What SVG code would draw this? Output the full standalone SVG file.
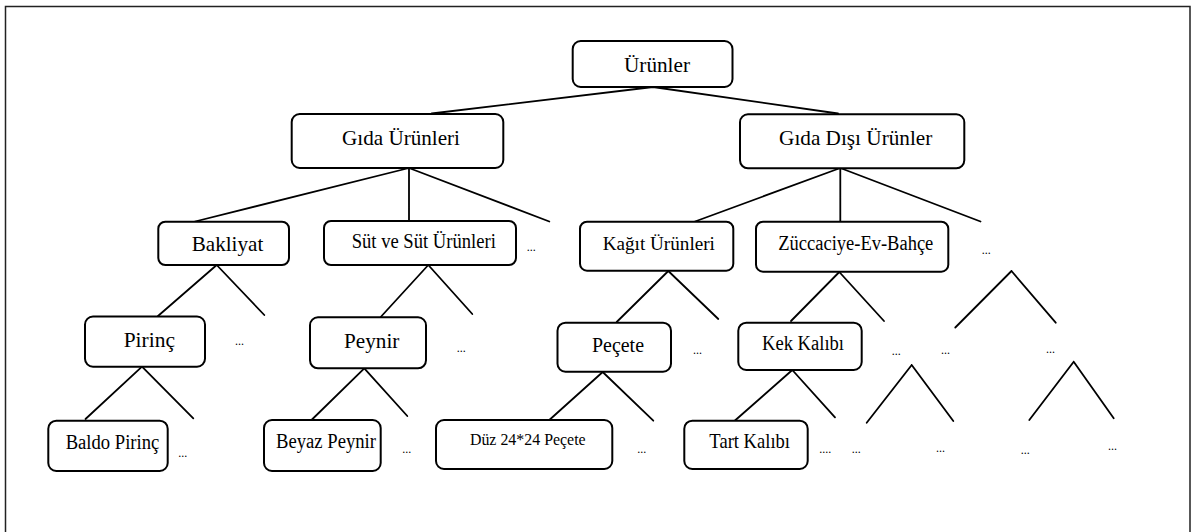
<svg xmlns="http://www.w3.org/2000/svg" width="1194" height="532" viewBox="0 0 1194 532">
  <style>
    .box { fill: #fff; stroke: #000; stroke-width: 2; }
    .edge { stroke: #000; stroke-width: 1.8; fill: none; stroke-linecap: round; }
    .lbl { font-family: "Liberation Serif", "Times New Roman", serif; fill: #000; text-anchor: middle; }
    .dots { font-family: "Liberation Serif", "Times New Roman", serif; font-size: 12px; fill: #000; }
  </style>
  <rect width="1194" height="532" fill="#fff"/>
  <!-- outer frame (runs off the bottom edge) -->
  <path d="M5.5,540 V6.5 H1190 V540" fill="none" stroke="#222" stroke-width="1.5"/>

  <g id="connectors" class="edge">
    <path d="M653,87 L431.7,113.5 M653,87 L838,113.5"/>
    <path d="M409,168 L195,221.5 M409,168 L409,221.5 M409,168 L549.3,221.5"/>
    <path d="M840.3,168 L695,221.5 M840.3,168 L840.3,221.5 M840.3,168 L980.5,221.5"/>
    <path d="M216.7,265 L158,316 M216.7,265 L264.3,315"/>
    <path d="M428.3,265 L380.7,317 M428.3,265 L472.3,314"/>
    <path d="M668.3,271 L616.7,322 M668.3,271 L718.3,319"/>
    <path d="M839.3,272 L791,321 M839.3,272 L884,321"/>
    <path d="M1011.5,271 L955.3,327.5 M1011.5,271 L1055.7,322.7"/>
    <path d="M142,366.7 L85.5,419 M142,366.7 L193.3,418.3"/>
    <path d="M364.3,368.3 L311,420.5 M364.3,368.3 L407.3,416"/>
    <path d="M602.7,372 L549.3,420 M602.7,372 L653.3,420.7"/>
    <path d="M792.3,370 L735,420.5 M792.3,370 L835,417.3"/>
    <path d="M911.7,365 L866.7,422.7 M911.7,365 L953.3,421"/>
    <path d="M1073.7,361.7 L1029.3,420 M1073.7,361.7 L1113.7,418.3"/>
  </g>

  <g id="urunler">
    <rect class="box" x="572.7" y="41" width="159.8" height="46" rx="8"/>
    <text class="lbl" font-family="Liberation Serif, serif" x="657" y="71.5" font-size="22" textLength="66" lengthAdjust="spacingAndGlyphs">Ürünler</text>
  </g>
  <g id="gida-urunleri">
    <rect class="box" x="291.7" y="114" width="211.6" height="54" rx="8"/>
    <text class="lbl" font-family="Liberation Serif, serif" x="401" y="145" font-size="22" textLength="118" lengthAdjust="spacingAndGlyphs">Gıda Ürünleri</text>
  </g>
  <g id="gida-disi-urunler">
    <rect class="box" x="740" y="114.3" width="224.3" height="54" rx="8"/>
    <text class="lbl" font-family="Liberation Serif, serif" x="855.7" y="145" font-size="22" textLength="153.3" lengthAdjust="spacingAndGlyphs">Gıda Dışı Ürünler</text>
  </g>
  <g id="bakliyat">
    <rect class="box" x="158.3" y="221.7" width="130.7" height="43.3" rx="7"/>
    <text class="lbl" font-family="Liberation Serif, serif" x="227.5" y="250.5" font-size="22" textLength="71.6" lengthAdjust="spacingAndGlyphs">Bakliyat</text>
  </g>
  <g id="sut-urunleri">
    <rect class="box" x="324" y="221" width="192" height="44" rx="7"/>
    <text class="lbl" font-family="Liberation Serif, serif" x="423.8" y="248.3" font-size="20" textLength="144.3" lengthAdjust="spacingAndGlyphs">Süt ve Süt Ürünleri</text>
  </g>
  <g id="kagit-urunleri">
    <rect class="box" x="580" y="221.7" width="153.3" height="49" rx="7"/>
    <text class="lbl" font-family="Liberation Serif, serif" x="658.8" y="250" font-size="19.8" textLength="112.3" lengthAdjust="spacingAndGlyphs">Kağıt Ürünleri</text>
  </g>
  <g id="zuccaciye">
    <rect class="box" x="756" y="221.7" width="192.3" height="50" rx="7"/>
    <text class="lbl" font-family="Liberation Serif, serif" x="855.8" y="250" font-size="20" textLength="155" lengthAdjust="spacingAndGlyphs">Züccaciye-Ev-Bahçe</text>
  </g>
  <g id="pirinc">
    <rect class="box" x="85" y="316.5" width="120" height="50.2" rx="8"/>
    <text class="lbl" font-family="Liberation Serif, serif" x="149.3" y="347.3" font-size="22" textLength="51.3" lengthAdjust="spacingAndGlyphs">Pirinç</text>
  </g>
  <g id="peynir">
    <rect class="box" x="310" y="317.3" width="116" height="51" rx="8"/>
    <text class="lbl" font-family="Liberation Serif, serif" x="371.7" y="348.3" font-size="22" textLength="55.3" lengthAdjust="spacingAndGlyphs">Peynir</text>
  </g>
  <g id="pecete">
    <rect class="box" x="557.5" y="322.7" width="113.5" height="49" rx="8"/>
    <text class="lbl" font-family="Liberation Serif, serif" x="618" y="351.7" font-size="21" textLength="52" lengthAdjust="spacingAndGlyphs">Peçete</text>
  </g>
  <g id="kek-kalibi">
    <rect class="box" x="738.3" y="322.7" width="123.4" height="47.3" rx="8"/>
    <text class="lbl" font-family="Liberation Serif, serif" x="803" y="350" font-size="20.5" textLength="82" lengthAdjust="spacingAndGlyphs">Kek Kalıbı</text>
  </g>
  <g id="baldo-pirinc">
    <rect class="box" x="48.3" y="420.7" width="119.4" height="50.3" rx="8"/>
    <text class="lbl" font-family="Liberation Serif, serif" x="112.5" y="449.3" font-size="20.5" textLength="93.6" lengthAdjust="spacingAndGlyphs">Baldo Pirinç</text>
  </g>
  <g id="beyaz-peynir">
    <rect class="box" x="264" y="420" width="116.7" height="51" rx="8"/>
    <text class="lbl" font-family="Liberation Serif, serif" x="326" y="448.3" font-size="20.5" textLength="100" lengthAdjust="spacingAndGlyphs">Beyaz Peynir</text>
  </g>
  <g id="duz-pecete">
    <rect class="box" x="436" y="420" width="176.3" height="49" rx="8"/>
    <text class="lbl" font-family="Liberation Serif, serif" x="527.8" y="445" font-size="17.5" textLength="115.7" lengthAdjust="spacingAndGlyphs">Düz 24*24 Peçete</text>
  </g>
  <g id="tart-kalibi">
    <rect class="box" x="684.3" y="420.7" width="123.4" height="48.3" rx="8"/>
    <text class="lbl" font-family="Liberation Serif, serif" x="749.7" y="448.3" font-size="20.3" textLength="80.7" lengthAdjust="spacingAndGlyphs">Tart Kalıbı</text>
  </g>

  <g id="ellipses" class="dots">
    <text x="526.7" y="251">...</text>
    <text x="981.7" y="254">...</text>
    <text x="235" y="345">...</text>
    <text x="456.7" y="352">...</text>
    <text x="693" y="354">...</text>
    <text x="891.7" y="355">...</text>
    <text x="941" y="354">...</text>
    <text x="1046" y="353">...</text>
    <text x="178.3" y="457">...</text>
    <text x="402.3" y="453">...</text>
    <text x="637.3" y="453">...</text>
    <text x="819.3" y="453">....</text>
    <text x="851.7" y="453">...</text>
    <text x="936" y="452">...</text>
    <text x="1020.7" y="453.5">...</text>
    <text x="1108" y="449.5">...</text>
  </g>
</svg>
